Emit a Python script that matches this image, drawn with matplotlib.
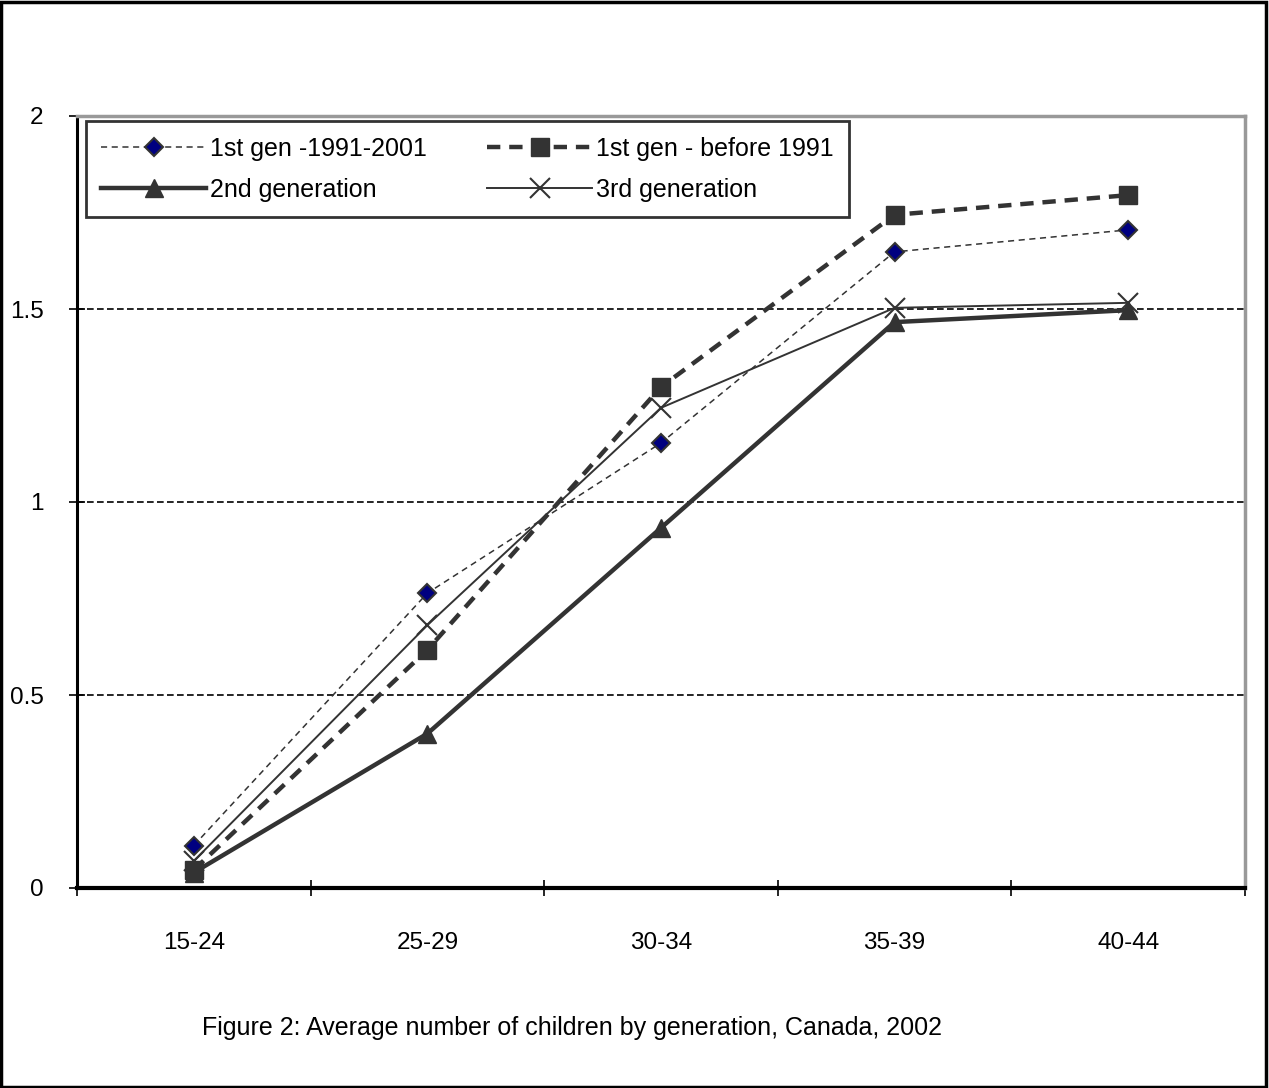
import matplotlib.pyplot as plt
from matplotlib.patches import Rectangle

plt.rcParams['font.family'] = ['Liberation Sans', 'DejaVu Sans']

ages = ['15-24', '25-29', '30-34', '35-39', '40-44']
gen1_recent = [0.11, 0.764, 1.153, 1.648, 1.705]
gen1_before = [0.047, 0.617, 1.298, 1.744, 1.795]
gen2 = [0.04, 0.40, 0.933, 1.466, 1.497]
gen3 = [0.07, 0.681, 1.244, 1.503, 1.516]

dark = '#333333'
fs = 17.5

fig = plt.figure(figsize=(12.69, 10.88), dpi=100)
ax = fig.add_axes([77 / 1269, 1 - 888 / 1088, (1245 - 77) / 1269, (888 - 116) / 1088])

x = list(range(len(ages)))
l1, = ax.plot(x, gen1_recent, color=dark, lw=1.1, ls=(0, (4, 3)), marker='D', ms=9,
              mfc='#000080', mec=dark, mew=1.5, label='1st gen -1991-2001')
l2, = ax.plot(x, gen1_before, color=dark, lw=3.2, ls=(0, (3, 2)), marker='s', ms=13,
              mfc=dark, mec=dark, label='1st gen - before 1991')
l3, = ax.plot(x, gen2, color=dark, lw=3.2, marker='^', ms=13, mfc=dark, mec=dark,
              label='2nd generation')
l4, = ax.plot(x, gen3, color=dark, lw=1.4, marker='x', ms=14, mew=1.5, label='3rd generation')

ax.set_xlim(-0.5, len(ages) - 0.5)
ax.set_ylim(0, 2)
ax.set_yticks([0, 0.5, 1, 1.5, 2])
ax.set_yticklabels(['0', '0.5', '1', '1.5', '2'], fontsize=fs)
for v in [0.5, 1, 1.5]:
    ax.axhline(v, color='black', lw=1.2, ls=(0, (4, 2)), zorder=0)

ax.set_xticks([i - 0.5 for i in range(len(ages) + 1)])
ax.set_xticklabels([])
ax.set_xticks(x, minor=True)
ax.set_xticklabels(ages, minor=True, fontsize=fs)
ax.tick_params(axis='x', which='minor', length=0, pad=32)
ax.tick_params(axis='x', which='major', direction='inout', length=12, width=1.2)
ax.tick_params(axis='y', direction='inout', length=12, width=1.2, pad=18)

ax.spines['left'].set_linewidth(2.2)
ax.spines['bottom'].set_linewidth(3)
ax.spines['top'].set_color('#999999')
ax.spines['top'].set_linewidth(2.5)
ax.spines['top'].set_linestyle((0, (3, 1)))
ax.spines['right'].set_color('#999999')
ax.spines['right'].set_linewidth(2.5)

# legend filled row by row: matplotlib fills columns, so reorder
leg = ax.legend([l1, l3, l2, l4], [l1.get_label(), l3.get_label(), l2.get_label(), l4.get_label()],
                ncol=2, loc='upper left', bbox_to_anchor=(0.0077, 0.9935), borderaxespad=0,
                fontsize=18, frameon=True, fancybox=False, edgecolor='black',
                handlelength=4.2, columnspacing=2.4, borderpad=0.62,
                labelspacing=0.68, handletextpad=0.15)
leg.get_frame().set_linewidth(2)

fig.text(572 / 1269, 1 - 1028 / 1088, 'Figure 2: Average number of children by generation, Canada, 2002',
         ha='center', va='center', fontsize=18)

fig.patches.append(Rectangle((0.001, 0.001), 0.997, 0.997, transform=fig.transFigure,
                             fill=False, edgecolor='black', lw=2.5))

fig.savefig('out.png', dpi=100)
